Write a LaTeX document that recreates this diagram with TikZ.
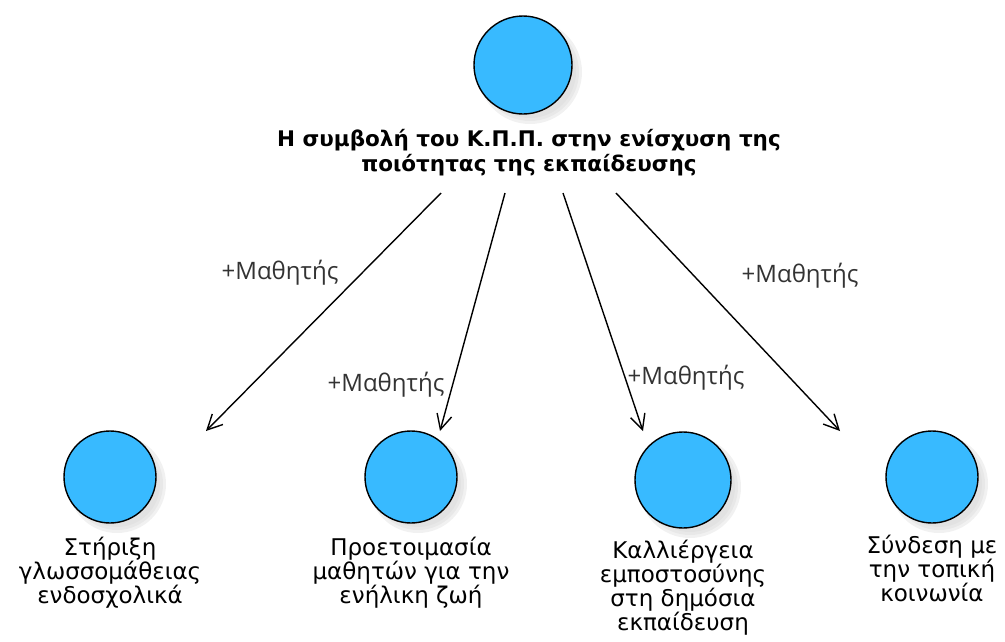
\documentclass[tikz,border=0pt]{standalone}
\usepackage{fontspec}
\setmainfont{DejaVu Sans}
\newfontfamily\rolefont{Open Sans}
\usetikzlibrary{arrows.meta}
\definecolor{actorblue}{RGB}{56,186,255}
\definecolor{shadowgray}{RGB}{215,215,215}
\tikzset{
  actor/.style={circle, draw=black, line width=1.4pt, fill=actorblue, inner sep=0pt},
  titletext/.style={align=center, inner sep=0pt, font=\bfseries\fontsize{21.5}{25}\selectfont},
  leaftext/.style={align=center, inner sep=0pt, anchor=north, font=\fontsize{23}{24}\selectfont},
  rolelabel/.style={inner sep=0pt, font=\rolefont\fontsize{24}{26}\selectfont, text=black!80},
  assoc/.style={line width=1.4pt, -{Straight Barb[length=15pt,width=15pt,line width=1.4pt]}}
}
% soft grey disc drawn below-right of an actor
\newcommand{\softshadow}[3]{%
  \foreach \k in {-2,1,4}{%
    \fill[shadowgray, opacity=0.35] (#1+7,#2+7) circle ({#3+\k-1});}}
\begin{document}
\begin{tikzpicture}[x=1pt,y=-1pt]
\useasboundingbox (0,0) rectangle (1005,641);

% drop shadows behind the actors
\softshadow{523}{65}{49}
\softshadow{110}{477}{46}
\softshadow{411}{477}{46}
\softshadow{683}{480}{48}
\softshadow{932}{477}{46}

% actors
\node[actor, minimum size=98pt] (top) at (523,65) {};
\node[actor, minimum size=92pt] (a1) at (110,477) {};
\node[actor, minimum size=92pt] (a2) at (411,477) {};
\node[actor, minimum size=96pt] (a3) at (683,480) {};
\node[actor, minimum size=92pt] (a4) at (932,477) {};

% actor names
\node[titletext] (title) at (529,153) {Η συμβολή του Κ.Π.Π. στην ενίσχυση της\\ποιότητας της εκπαίδευσης};
\node[leaftext] (n1) at (110,537) {Στήριξη\\γλωσσομάθειας\\ενδοσχολικά};
\node[leaftext] (n2) at (411,537) {Προετοιμασία\\μαθητών για την\\ενήλικη ζωή};
\node[leaftext] (n3) at (683,540) {Καλλιέργεια\\εμποστοσύνης\\στη δημόσια\\εκπαίδευση};
\node[leaftext] (n4) at (932,535) {Σύνδεση με\\την τοπική\\κοινωνία};

% association end points
\coordinate (s1) at (441,193);
\coordinate (s2) at (505,193);
\coordinate (s3) at (563,193);
\coordinate (s4) at (616,193);
\coordinate (e1) at (206,431);
\coordinate (e2) at (440,431);
\coordinate (e3) at (643,431);
\coordinate (e4) at (840,431);

% associations
\draw[assoc] (s1) -- (e1);
\draw[assoc] (s2) -- (e2);
\draw[assoc] (s3) -- (e3);
\draw[assoc] (s4) -- (e4);

% role labels
\node[rolelabel] (r1) at (280,273) {+Μαθητής};
\node[rolelabel] (r2) at (386,385) {+Μαθητής};
\node[rolelabel] (r3) at (686,378) {+Μαθητής};
\node[rolelabel] (r4) at (800,276) {+Μαθητής};
\end{tikzpicture}
\end{document}
